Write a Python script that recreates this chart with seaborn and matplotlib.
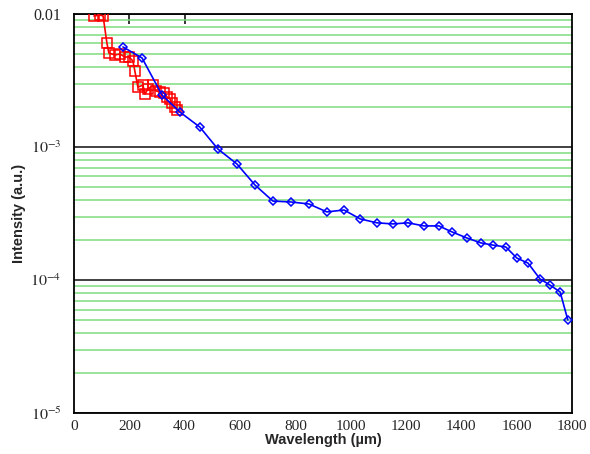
import numpy as np
import pandas as pd
import matplotlib
matplotlib.use("Agg")
import matplotlib.pyplot as plt
from matplotlib.ticker import LogLocator, NullFormatter, FixedLocator, FixedFormatter
import seaborn as sns

# red series (squares)
red_x = [72, 94, 105, 119, 126, 148, 166, 184, 199, 213, 220, 231, 249, 257, 267,
         285, 296, 311, 325, 336, 347, 354, 365, 372]
red_y = [0.00966, 0.0098, 0.0097, 0.00605, 0.00509, 0.00492, 0.00500, 0.00475,
         0.00475, 0.00443, 0.00373, 0.00282, 0.00292, 0.00250, 0.00273, 0.00290,
         0.00264, 0.00259, 0.00255, 0.00238, 0.00230, 0.00214, 0.00200, 0.00190]

# blue series (diamonds)
blue_x = [177, 246, 318, 383, 455, 520, 589, 654, 719, 784, 849, 914, 976, 1034,
          1095, 1153, 1207, 1265, 1319, 1366, 1420, 1471, 1514, 1561, 1601, 1641,
          1684, 1720, 1757, 1785]
blue_y = [5.65e-3, 4.67e-3, 2.46e-3, 1.83e-3, 1.41e-3, 9.66e-4, 7.45e-4, 5.18e-4,
          3.92e-4, 3.86e-4, 3.73e-4, 3.25e-4, 3.36e-4, 2.88e-4, 2.69e-4, 2.64e-4,
          2.69e-4, 2.55e-4, 2.55e-4, 2.30e-4, 2.07e-4, 1.90e-4, 1.83e-4, 1.77e-4,
          1.46e-4, 1.34e-4, 1.02e-4, 9.17e-5, 8.13e-5, 5.0e-5]

x_ticks = [0, 200, 400, 600, 800, 1000, 1200, 1400, 1600, 1800]
y_ticks = [1e-5, 1e-4, 1e-3, 1e-2]
y_tick_labels = [r"$10^{-5}$", r"$10^{-4}$", r"$10^{-3}$", "0.01"]

sns.set_style("white")
plt.rcParams["mathtext.fontset"] = "stix"

fig = plt.figure(figsize=(5.9, 4.54), dpi=100)
ax = fig.add_axes([0.1254, 0.0903, 0.8441, 0.8789])

red = pd.DataFrame({"x": red_x, "y": red_y})
blue = pd.DataFrame({"x": blue_x, "y": blue_y})

sns.lineplot(data=red, x="x", y="y", sort=False, estimator=None, ax=ax,
             color="red", lw=1.2, marker="s", markersize=6.5,
             markerfacecolor="none", markeredgecolor="red", markeredgewidth=1.1,
             zorder=3)
sns.lineplot(data=blue, x="x", y="y", sort=False, estimator=None, ax=ax,
             color="blue", lw=1.2, marker="D", markersize=4.2,
             markerfacecolor="none", markeredgecolor="blue", markeredgewidth=1.1,
             zorder=4)

ax.set_yscale("log")
ax.set_xlim(0, 1800)
ax.set_ylim(1e-5, 1e-2)

# grid: green minor lines, dark major lines
ax.yaxis.set_minor_locator(LogLocator(base=10, subs=np.arange(2, 10)))
ax.yaxis.set_minor_formatter(NullFormatter())
ax.yaxis.set_major_locator(FixedLocator(y_ticks))
ax.yaxis.set_major_formatter(FixedFormatter(y_tick_labels))
ax.yaxis.grid(True, which="minor", color="#7fdc7f", lw=1.1)
ax.yaxis.grid(True, which="major", color="#333333", lw=1.3)
ax.xaxis.grid(False)
ax.set_axisbelow(True)

ax.set_xticks(x_ticks)
ax.tick_params(axis="x", which="major", direction="in", length=7, width=1.3,
               pad=5, labelsize=11)
ax.tick_params(axis="y", which="both", length=0, pad=9, labelsize=11.5)
for lab in ax.get_xticklabels() + ax.get_yticklabels():
    lab.set_fontfamily("Liberation Serif")

secax = ax.secondary_xaxis("top")
secax.set_xticks([200, 400])
secax.set_xticklabels([])
secax.tick_params(direction="in", length=7, width=1.3)
secax.spines["top"].set_visible(False)

for sp in ax.spines.values():
    sp.set_visible(True)
    sp.set_color("black")
    sp.set_linewidth(1.3)

ax.set_xlabel("Wavelength (\u00b5m)", fontfamily="Liberation Sans",
              fontweight="bold", fontsize=10.5, labelpad=0)
ax.set_ylabel("Intensity (a.u.)", fontfamily="Liberation Sans",
              fontweight="bold", fontsize=10.5, labelpad=3)

fig.savefig("out.png", dpi=100)
